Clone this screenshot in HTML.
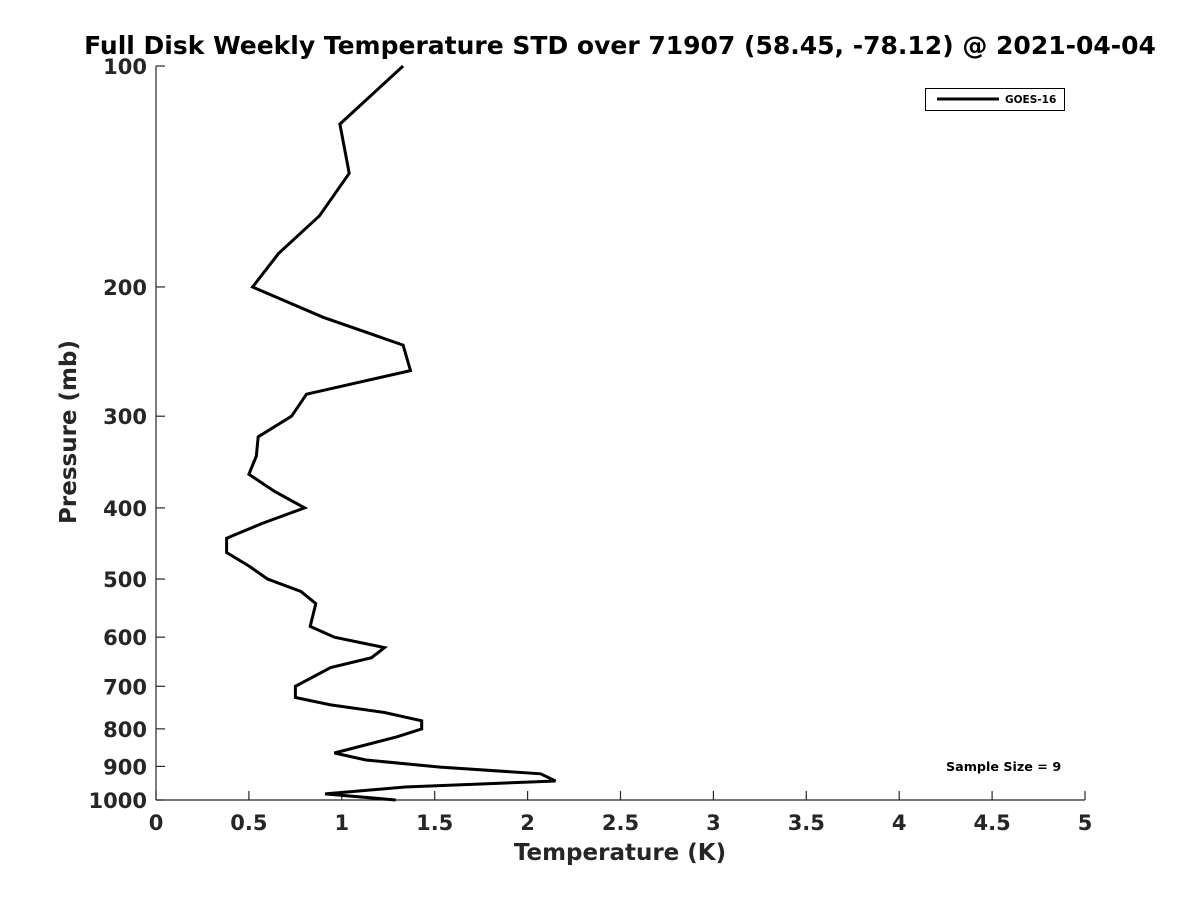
<!DOCTYPE html>
<html><head><meta charset="utf-8"><style>
body{margin:0;background:#fff}
svg text{font-family:"DejaVu Sans","Liberation Sans",sans-serif;font-weight:bold;fill:#262626}
</style></head><body>
<svg width="1200" height="900" xmlns="http://www.w3.org/2000/svg">
<rect width="1200" height="900" fill="#fff"/>
<text x="620" y="54" text-anchor="middle" font-size="25" style="fill:#000">Full Disk Weekly Temperature STD over 71907 (58.45, -78.12) @ 2021-04-04</text>
<g id="axes"></g>
<path id="series" fill="none" stroke="#000" stroke-width="3" stroke-linejoin="miter"/>
<text x="620" y="860" text-anchor="middle" font-size="23">Temperature (K)</text>
<text transform="translate(76,432) rotate(-90)" text-anchor="middle" font-size="23">Pressure (mb)</text>
<g>
<rect x="925.5" y="88.5" width="139" height="22" fill="#fff" stroke="#000" stroke-width="1"/>
<line x1="937" y1="99" x2="999" y2="99" stroke="#000" stroke-width="3"/>
<text x="1005" y="103" font-size="10.5" style="fill:#000">GOES-16</text>
</g>
<text x="946" y="771" font-size="12.7" style="fill:#000">Sample Size = 9</text>
</svg>
<script>
const temps=[1.33,0.99,1.04,0.88,0.66,0.52,0.90,1.33,1.37,0.81,0.73,0.55,0.54,0.50,0.64,0.80,0.57,0.38,0.38,0.50,0.60,0.78,0.86,0.83,0.96,1.23,1.16,0.94,0.75,0.75,0.94,1.23,1.43,1.43,1.30,0.96,1.13,1.53,2.07,2.15,1.34,0.91,1.29];
const pressures=[100,120,140,160,180,200,220,240,260,280,300,320,340,360,380,400,420,440,460,480,500,520,540,580,600,620,640,660,700,725,742,760,780,800,820,863,882,902,921,942,960,981,1000];
const xTicks=[0,0.5,1,1.5,2,2.5,3,3.5,4,4.5,5];
const xTickLabels=["0","0.5","1","1.5","2","2.5","3","3.5","4","4.5","5"];
const yTicks=[100,200,300,400,500,600,700,800,900,1000];
const X0=156,X1=1085,Y0=66,Y1=800;
const xs=v=>X0+(v-0)/5*(X1-X0);
const ys=p=>Y0+(Math.log10(p)-2)*(Y1-Y0);
const NS="http://www.w3.org/2000/svg";
const g=document.getElementById('axes');
function mk(t,a){const e=document.createElementNS(NS,t);for(const k in a)e.setAttribute(k,a[k]);g.appendChild(e);return e;}
let e=mk('line',{x1:X0,y1:Y1,x2:X1,y2:Y1,stroke:'#262626','stroke-width':1.2});


e=mk('line',{x1:X0,y1:Y0,x2:X0,y2:Y1,stroke:'#262626','stroke-width':1.2});


xTicks.forEach((v,i)=>{
 const x=xs(v);
 let t=mk('line',{x1:x,y1:Y1,x2:x,y2:Y1-9,stroke:'#262626','stroke-width':1.2});
 
 
 let l=mk('text',{x:x,y:Y1+30,'text-anchor':'middle','font-size':21});
 l.textContent=xTickLabels[i];
 
 
});
yTicks.forEach(p=>{
 const y=ys(p);
 let t=mk('line',{x1:X0,y1:y,x2:X0+9,y2:y,stroke:'#262626','stroke-width':1.2});
 
 
 let l=mk('text',{x:X0-9,y:y+8,'text-anchor':'end','font-size':21});
 l.textContent=String(p);
 
 
});
document.getElementById('series').setAttribute('d',temps.map((t,i)=>(i?'L':'M')+xs(t).toFixed(1)+' '+ys(pressures[i]).toFixed(1)).join(' '));
</script>
</body></html>
